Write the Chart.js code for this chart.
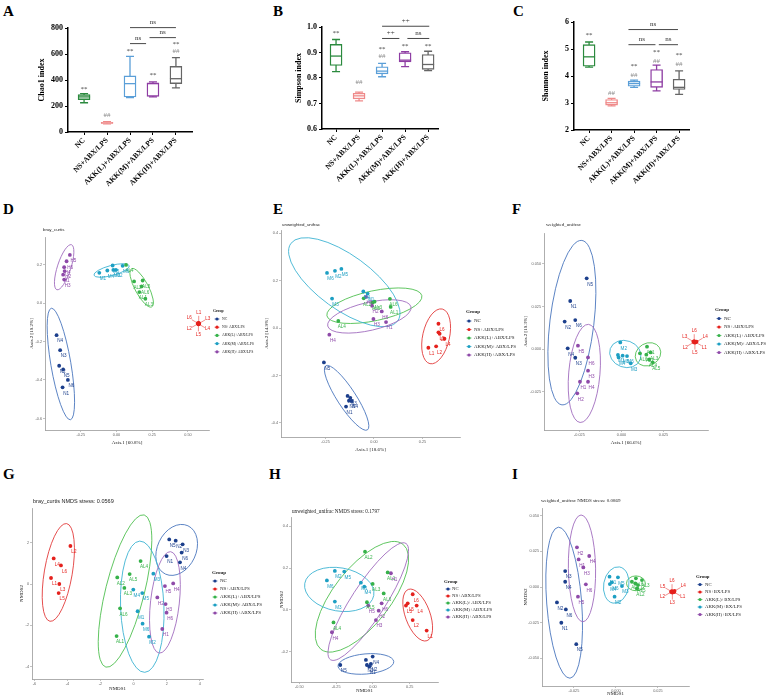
<!DOCTYPE html>
<html lang="en">
<head>
<meta charset="UTF-8">
<title>Alpha and beta diversity</title>
<script src="https://cdn.jsdelivr.net/npm/chart.js"></script>
<style>
  body { margin: 0; background: #fff; }
  #page { position: relative; width: 767px; height: 699px; overflow: hidden; background: #fff; }
  #page canvas { position: absolute; }
  .tag { position: absolute; font: bold 15px "Liberation Serif", "Times New Roman", serif; line-height: 15px; color: #000; }
</style>
</head>
<body>
<div id="page">
  <div class="tag" style="left:3px;top:4px">A</div>
  <div class="tag" style="left:273px;top:4px">B</div>
  <div class="tag" style="left:513px;top:4px">C</div>
  <div class="tag" style="left:3px;top:202px">D</div>
  <div class="tag" style="left:273px;top:202px">E</div>
  <div class="tag" style="left:512px;top:202px">F</div>
  <div class="tag" style="left:3px;top:467px">G</div>
  <div class="tag" style="left:269px;top:467px">H</div>
  <div class="tag" style="left:512px;top:467px">I</div>
  <canvas id="chao"></canvas>
  <canvas id="simpson"></canvas>
  <canvas id="shannon"></canvas>
  <canvas id="pcoaBray"></canvas>
  <canvas id="pcoaUnw"></canvas>
  <canvas id="pcoaW"></canvas>
  <canvas id="nmdsBray"></canvas>
  <canvas id="nmdsUnw"></canvas>
  <canvas id="nmdsW"></canvas>
</div>
<script>
const groupNames = ['NC', 'NS+ABX/LPS', 'AKK(L)+ABX/LPS', 'AKK(M)+ABX/LPS', 'AKK(H)+ABX/LPS'];
const groupNamesBX = ['NC', 'NS+BX/LPS', 'AKK(L)+BX/LPS', 'AKK(M)+BX/LPS', 'AKK(H)+BX/LPS'];
const boxColors = ['#2b8a3e', '#ef8a8a', '#5b9fd8', '#8e3da3', '#666666'];
const pointColors = ['#1c3f8c', '#e5211d', '#36b24a', '#1d9fc3', '#8f4aa9'];
const ringColors = ['#4a76bd', '#e23a3a', '#4fbf50', '#3db3d3', '#a06cbe'];

// A - Chao1
const chaoMin = [225, 62, 265, 270, 340];
const chaoQ1 = [249, 66, 269, 274, 372];
const chaoMedian = [270, 70, 372, 372, 410];
const chaoQ3 = [287, 75, 432, 378, 505];
const chaoMax = [295, 80, 582, 385, 572];
const chaoTicks = [0, 200, 400, 600, 800];
const chaoMarks = [[0, 330, '**'], [1, 128, '##'], [2, 623, '**'], [3, 436, '**'], [4, 672, '**'], [4, 623, '##']];
const chaoBrackets = [[2, 2.7, 680, 'ns'], [2.85, 4, 726, 'ns'], [2, 4, 803, 'ns']];

// B - Simpson
const simpsonMin = [0.825, 0.710, 0.805, 0.845, 0.829];
const simpsonQ1 = [0.849, 0.718, 0.816, 0.863, 0.834];
const simpsonMedian = [0.886, 0.730, 0.827, 0.870, 0.853];
const simpsonQ3 = [0.932, 0.740, 0.844, 0.899, 0.892];
const simpsonMax = [0.951, 0.745, 0.857, 0.903, 0.905];
const simpsonTicks = [0.6, 0.7, 0.8, 0.9, 1.0];
const simpsonMarks = [[0, 0.974, '**'], [1, 0.782, '##'], [2, 0.913, '**'], [2, 0.886, '##'], [3, 0.925, '**'], [4, 0.925, '**']];
const simpsonBrackets = [[2, 2.75, 0.955, '++'], [3.1, 4.05, 0.955, 'ns'], [2, 4.05, 1.003, '++']];

// C - Shannon
const shannonMin = [4.33, 2.89, 3.58, 3.45, 3.32];
const shannonQ1 = [4.36, 2.92, 3.62, 3.58, 3.50];
const shannonMedian = [4.71, 3.01, 3.72, 3.78, 3.58];
const shannonQ3 = [5.16, 3.13, 3.81, 4.24, 3.88];
const shannonMax = [5.26, 3.17, 3.85, 4.40, 4.19];
const shannonTicks = [2, 3, 4, 5, 6];
const shannonMarks = [[0, 5.53, '**'], [1, 3.35, '##'], [2, 4.38, '**'], [2, 4.03, '##'], [3, 4.89, '**'], [3, 4.56, '##'], [4, 4.77, '**'], [4, 4.44, '##']];
const shannonBrackets = [[1.75, 2.95, 5.16, 'ns'], [3.1, 3.95, 5.16, 'ns'], [1.75, 3.95, 5.72, 'ns']];

// D - PCoA bray_curtis  [sample, axis1, axis2]
const brayNC = [['N4', -0.419, -0.167], ['N3', -0.394, -0.245], ['N2', -0.401, -0.326], ['N5', -0.373, -0.345], ['N6', -0.340, -0.400], ['N1', -0.377, -0.438]];
const brayNS = [['L1', 0.575, -0.103], ['L3', 0.578, -0.106], ['L4', 0.576, -0.110], ['L5', 0.573, -0.111], ['L2', 0.570, -0.108], ['L6', 0.569, -0.105]];
const brayL = [['AL4', 0.067, 0.198], ['AL2', 0.123, 0.112], ['AL5', 0.183, 0.117], ['AL6', 0.176, 0.086], ['AL1', 0.160, 0.057], ['AL3', 0.202, 0.022]];
const brayM = [['M1', -0.120, 0.157], ['M4', -0.064, 0.169], ['M5', -0.027, 0.195], ['M3', -0.022, 0.172], ['M2', -0.004, 0.172], ['M6', 0.043, 0.193]];
const brayH = [['H5', -0.326, 0.250], ['H6', -0.349, 0.217], ['H4', -0.366, 0.186], ['H2', -0.363, 0.166], ['H1', -0.373, 0.147], ['H3', -0.366, 0.122]];
// ellipses: [centre x, centre y, semi-axis x, semi-axis y, tilt deg]
const brayEllipses = [[-0.389, -0.317, 0.07, 0.294, -9.7], null, [0.176, 0.079, 0.151, 0.035, 62], [-0.034, 0.169, 0.128, 0.026, -15], [-0.366, 0.186, 0.047, 0.123, 18]];

// E - PCoA unweighted_unifrac
const unwNC = [['N5', -0.258, -0.145], ['N2', -0.136, -0.286], ['N3', -0.122, -0.294], ['N6', -0.129, -0.306], ['N4', -0.115, -0.307], ['N1', -0.144, -0.331]];
const unwNS = [['L6', 0.332, 0.018], ['L5', 0.332, -0.018], ['L3', 0.338, -0.024], ['L4', 0.363, -0.045], ['L2', 0.320, -0.077], ['L1', 0.280, -0.083]];
const unwL = [['AL2', -0.053, 0.125], ['AL5', -0.007, 0.108], ['AL3', 0.003, 0.111], ['AL6', 0.082, 0.123], ['AL1', 0.086, 0.089], ['AL4', -0.184, 0.030]];
const unwM = [['M6', -0.242, 0.232], ['M2', -0.201, 0.241], ['M5', -0.168, 0.249], ['M3', -0.216, 0.124], ['M4', -0.055, 0.154], ['M1', -0.033, 0.145]];
const unwH = [['H5', -0.041, 0.131], ['H2', -0.010, 0.094], ['H6', 0.040, 0.070], ['H3', -0.003, 0.038], ['H1', 0.062, 0.025], ['H4', -0.230, -0.028]];
const unwEllipses = [[-0.141, -0.294, 0.048, 0.161, -33], [0.320, -0.035, 0.069, 0.118, 12.7], [0.002, 0.094, 0.25, 0.063, -12], [-0.153, 0.193, 0.34, 0.114, 36], [-0.024, 0.049, 0.22, 0.059, -13]];

// F - PCoA weighted_unifrac
const wNC = [['N5', -0.0207, 0.0415], ['N1', -0.0305, 0.0282], ['N2', -0.0338, 0.0161], ['N6', -0.0275, 0.0170], ['N4', -0.0320, 0.0004], ['N3', -0.0275, -0.0051]];
const wNS = [['L6', 0.0433, 0.0046], ['L4', 0.0447, 0.0043], ['L1', 0.0441, 0.0040], ['L5', 0.0437, 0.0038], ['L2', 0.0431, 0.0040], ['L3', 0.0428, 0.0044]];
const wL = [['AL1', 0.0152, 0.0014], ['AL6', 0.0110, -0.0025], ['AL2', 0.0148, -0.0033], ['AL3', 0.0174, -0.0020], ['AL4', 0.0166, -0.0061], ['AL5', 0.0186, -0.0078]];
const wM = [['M2', -0.0007, 0.0039], ['M1', -0.0021, -0.0035], ['M5', 0.0007, -0.0039], ['M4', -0.0017, -0.0049], ['M6', 0.0033, -0.0041], ['M3', 0.0055, -0.0084]];
const wH = [['H5', -0.0259, 0.0020], ['H6', -0.0199, -0.0049], ['H3', -0.0199, -0.0127], ['H1', -0.0247, -0.0192], ['H4', -0.0199, -0.0192], ['H2', -0.0263, -0.0260]];
const wEllipses = [[-0.0295, 0.0155, 0.0131, 0.0486, 6.9], null, [0.0158, -0.0031, 0.0079, 0.0065, -30], [0.0023, -0.0029, 0.0095, 0.0078, 20], [-0.0221, -0.0143, 0.0093, 0.0289, 4.9]];

// G - NMDS bray_curtis
const nbNC = [['N5', 2.15, 2.16], ['N2', 2.54, 2.10], ['N3', 2.96, 1.92], ['N6', 2.90, 1.52], ['N1', 1.99, 1.35], ['N4', 2.80, 1.05]];
const nbNS = [['L2', -3.82, 1.84], ['L4', -4.83, 1.24], ['L6', -4.39, 0.90], ['L1', -4.99, 0.29], ['L3', -4.49, 0.00], ['L5', -4.53, -0.44]];
const nbL = [['AL4', 0.42, 1.11], ['AL5', -0.24, 0.48], ['AL2', -0.99, 0.32], ['AL3', -0.56, -0.19], ['AL6', -0.82, -1.18], ['AL1', -1.03, -2.52]];
const nbM = [['M3', 1.19, 0.50], ['M4', -0.02, -0.27], ['M5', 0.52, -0.44], ['M1', 0.24, -1.32], ['M6', 0.54, -1.92], ['M2', 0.93, -2.55]];
const nbH = [['H4', 2.39, 0.03], ['H5', 1.89, -0.10], ['H2', 1.43, -0.65], ['H3', 1.93, -0.97], ['H6', 1.99, -1.39], ['H1', 1.73, -2.18]];
const nbEllipses = [[2.60, 1.65, 1.17, 1.29, 25], [-4.55, 0.56, 0.845, 2.40, 9.7], [-0.52, -0.34, 1.17, 3.80, 14.1], [0.52, -1.10, 1.31, 3.18, -2.2], [1.89, -0.89, 0.87, 2.47, 6.4]];

// H - NMDS unweighted_unifrac
const nuNC = [['N4', -0.002, -0.222], ['N6', -0.048, -0.238], ['N5', -0.222, -0.262], ['N3', -0.041, -0.262], ['N2', -0.014, -0.257], ['N1', -0.025, -0.270]];
const nuNS = [['L6', 0.270, 0.075], ['L5', 0.236, 0.032], ['L3', 0.224, 0.021], ['L4', 0.297, 0.021], ['L2', 0.270, -0.048], ['L1', 0.365, -0.098]];
const nuL = [['AL2', -0.054, 0.278], ['AL1', 0.100, 0.179], ['AL3', -0.002, 0.124], ['AL6', 0.073, 0.079], ['AL5', -0.041, 0.037], ['AL4', -0.268, -0.059]];
const nuM = [['M2', -0.259, 0.186], ['M5', -0.195, 0.183], ['M6', -0.313, 0.141], ['M1', -0.082, 0.130], ['M4', -0.059, 0.111], ['M3', -0.259, 0.040]];
const nuH = [['H1', 0.122, 0.175], ['H6', 0.059, 0.032], ['H5', -0.032, 0.021], ['H2', 0.039, -0.003], ['H3', 0.020, -0.048], ['H4', -0.279, -0.106]];
const nuEllipses = [[-0.048, -0.257, 0.19, 0.048, -5], [0.304, -0.024, 0.084, 0.130, -20], [-0.075, 0.063, 0.453, 0.135, -52], [-0.229, 0.098, 0.238, 0.103, 10], [-0.032, 0.040, 0.471, 0.08, -57]];

// I - NMDS weighted_unifrac
const nwNC = [['N3', -0.0302, 0.0112], ['N4', -0.0302, 0.0037], ['N2', -0.0351, -0.0108], ['N6', -0.0298, -0.0157], ['N1', -0.0325, -0.0251], ['N5', -0.0236, -0.0401]];
const nwNS = [['L6', 0.0334, -0.0029], ['L4', 0.0349, -0.0028], ['L1', 0.0346, -0.0036], ['L3', 0.0336, -0.0039], ['L2', 0.0329, -0.0035], ['L5', 0.0330, -0.0031]];
const nwL = [['AL6', 0.0119, 0.0061], ['AL1', 0.0095, 0.0037], ['AL3', 0.0155, 0.0049], ['AL4', 0.0115, 0.0026], ['AL5', 0.0131, 0.0014], ['AL2', 0.0125, -0.0009]];
const nwM = [['M1', -0.0038, 0.0073], ['M5', 0.0012, 0.0068], ['M6', -0.0024, 0.0033], ['M4', -0.0036, 0.0021], ['M3', 0.0036, 0.0007], ['M2', -0.0008, -0.0068]];
const nwH = [['H2', -0.0232, 0.0279], ['H1', -0.0222, 0.0194], ['H4', -0.0159, 0.0218], ['H3', -0.0194, 0.0138], ['H6', -0.0179, 0.0019], ['H5', -0.0226, -0.0068]];
const nwEllipses = [[-0.0308, -0.0110, 0.0104, 0.0532, -4.4], null, [0.0119, 0.0026, 0.0056, 0.0052, 0], [0.0002, 0.0014, 0.0075, 0.0129, 10], [-0.0202, 0.0131, 0.0081, 0.0375, -1]];

const SERIF = '"Liberation Serif", "Times New Roman", serif';
const SANS = '"Liberation Sans", Arial, sans-serif';

// put a canvas so that its chart area lands on L,T,R,B of the page
function place(id, p) {
  const c = document.getElementById(id);
  const left = p.L - p.yW, top = p.T - p.padTop;
  c.width = p.R - p.L + p.yW + p.padRight;
  c.height = p.B - p.T + p.padTop + p.xH;
  c.style.left = left + 'px';
  c.style.top = top + 'px';
  return { c, left, top };
}

function fixedTicks(values) {
  return scale => { scale.ticks = values.map(v => ({ value: v })); };
}

function boxChart(id, p, s) {
  const { c } = place(id, p);
  const decor = {
    id: 'boxDecor',
    beforeDatasetsDraw(chart) {
      const ctx = chart.ctx, xs = chart.scales.x, ys = chart.scales.y;
      ctx.save();
      ctx.lineWidth = 1.3;
      s.min.forEach((v, i) => {
        const x = xs.getPixelForValue(i);
        const lo = ys.getPixelForValue(v), hi = ys.getPixelForValue(s.max[i]);
        ctx.strokeStyle = boxColors[i];
        ctx.beginPath();
        ctx.moveTo(x, lo); ctx.lineTo(x, hi);
        ctx.moveTo(x - 4, lo); ctx.lineTo(x + 4, lo);
        ctx.moveTo(x - 4, hi); ctx.lineTo(x + 4, hi);
        ctx.stroke();
      });
      ctx.restore();
    },
    afterDatasetsDraw(chart) {
      const ctx = chart.ctx, xs = chart.scales.x, ys = chart.scales.y;
      ctx.save();
      ctx.lineWidth = 1.3;
      s.median.forEach((v, i) => {
        const x = xs.getPixelForValue(i), y = ys.getPixelForValue(v);
        ctx.strokeStyle = boxColors[i];
        ctx.beginPath(); ctx.moveTo(x - 6, y); ctx.lineTo(x + 6, y); ctx.stroke();
      });
      ctx.textAlign = 'center';
      ctx.textBaseline = 'middle';
      ctx.font = '7px ' + SERIF;
      s.marks.forEach(([i, v, t]) => {
        ctx.fillStyle = t === '**' ? '#444' : '#888';
        ctx.fillText(t, xs.getPixelForValue(i), ys.getPixelForValue(v));
      });
      ctx.strokeStyle = '#333';
      ctx.fillStyle = '#333';
      ctx.lineWidth = 0.9;
      s.brackets.forEach(([a, b, v, t]) => {
        const y = ys.getPixelForValue(v);
        const x1 = xs.getPixelForValue(a), x2 = xs.getPixelForValue(b);
        ctx.beginPath(); ctx.moveTo(x1, y); ctx.lineTo(x2, y); ctx.stroke();
        ctx.fillText(t, (x1 + x2) / 2, y - 5.5);
      });
      ctx.restore();
    }
  };
  const tickGrid = { display: true, drawOnChartArea: false, drawTicks: true, tickLength: 3, color: '#000', lineWidth: 1, offset: false };
  new Chart(c, {
    type: 'bar',
    data: {
      datasets: [{
        data: s.q1.map((v, i) => ({ x: i, y: [v, s.q3[i]] })),
        backgroundColor: '#fff',
        borderColor: boxColors,
        borderWidth: 1.4,
        borderSkipped: false,
        barThickness: 12
      }]
    },
    options: {
      responsive: false,
      animation: false,
      events: [],
      layout: { padding: { top: p.padTop, right: p.padRight, left: 0, bottom: 0 }, autoPadding: false },
      plugins: { legend: { display: false }, tooltip: { enabled: false } },
      scales: {
        x: {
          type: 'linear', min: s.xMin, max: s.xMax, offset: false,
          afterBuildTicks: fixedTicks([0, 1, 2, 3, 4]),
          afterFit: sc => { sc.height = p.xH; },
          grid: tickGrid,
          border: { display: true, color: '#000', width: 1.5 },
          ticks: { autoSkip: false, minRotation: 45, maxRotation: 45, padding: 1, color: '#000',
                   font: { family: SERIF, weight: 'bold', size: 7.5 },
                   callback: (v, i) => groupNames[i] }
        },
        y: {
          min: s.yMin, max: s.yMax, beginAtZero: false,
          afterBuildTicks: fixedTicks(s.ticks),
          afterFit: sc => { sc.width = p.yW; },
          grid: tickGrid,
          border: { display: true, color: '#000', width: 1.5 },
          ticks: { padding: 2, color: '#000', font: { family: SERIF, weight: 'bold', size: 8 },
                   callback: v => v.toFixed(s.dec) },
          title: { display: true, text: s.title, color: '#000', font: { family: SERIF, weight: 'bold', size: 8 },
                   padding: { top: 4, bottom: 0 } }
        }
      }
    },
    plugins: [decor]
  });
}

function scatterChart(id, p, s) {
  const { c, left, top } = place(id, p);
  const decor = {
    id: 'ordDecor',
    beforeDatasetsDraw(chart) {
      const ctx = chart.ctx, xs = chart.scales.x, ys = chart.scales.y;
      ctx.save();
      ctx.lineWidth = 0.9;
      s.ellipses.forEach((e, k) => {
        if (!e) return;
        const [cx, cy, rx, ry, deg] = e;
        const px = xs.getPixelForValue(cx), py = ys.getPixelForValue(cy);
        const rpx = Math.abs(xs.getPixelForValue(cx + rx) - px);
        const rpy = Math.abs(ys.getPixelForValue(cy + ry) - py);
        ctx.strokeStyle = ringColors[k];
        ctx.beginPath();
        ctx.ellipse(px, py, rpx, rpy, deg * Math.PI / 180, 0, 2 * Math.PI);
        ctx.stroke();
      });
      ctx.restore();
    },
    afterDatasetsDraw(chart) {
      const ctx = chart.ctx;
      ctx.save();
      ctx.font = '4.6px ' + SANS;
      ctx.textAlign = 'center';
      ctx.textBaseline = 'middle';
      chart.data.datasets.forEach((ds, k) => {
        const pts = chart.getDatasetMeta(k).data;
        const mx = pts.reduce((a, q) => a + q.x, 0) / pts.length;
        const my = pts.reduce((a, q) => a + q.y, 0) / pts.length;
        const tight = pts.every(q => Math.hypot(q.x - mx, q.y - my) < 5);
        ctx.fillStyle = pointColors[k];
        ctx.strokeStyle = pointColors[k];
        ctx.lineWidth = 0.5;
        pts.forEach((q, i) => {
          const name = ds.data[i].id;
          if (tight) {
            const a = (i * 60 - 90) * Math.PI / 180;
            ctx.beginPath();
            ctx.moveTo(q.x, q.y);
            ctx.lineTo(q.x + Math.cos(a) * 7, q.y + Math.sin(a) * 7);
            ctx.stroke();
            ctx.fillText(name, q.x + Math.cos(a) * 10, q.y + Math.sin(a) * 10);
          } else {
            ctx.fillText(name, q.x + 3.5, q.y + 6);
          }
        });
      });
      ctx.restore();
    },
    afterDraw(chart) {
      const ctx = chart.ctx, lg = s.legend;
      ctx.save();
      ctx.textAlign = 'left';
      ctx.textBaseline = 'middle';
      ctx.fillStyle = '#222';
      ctx.font = s.titleFont;
      ctx.fillText(s.title, s.titleAt[0] - left, s.titleAt[1] - top);
      ctx.font = 'bold ' + lg.fs + 'px ' + SERIF;
      ctx.fillText('Group', lg.x - left, lg.y - top);
      ctx.font = lg.fs + 'px ' + SERIF;
      s.names.forEach((n, k) => {
        const y = lg.y + lg.first + k * lg.dy - top;
        const kx = lg.kx - left;
        ctx.fillStyle = pointColors[k];
        ctx.strokeStyle = pointColors[k];
        ctx.lineWidth = 0.6;
        ctx.beginPath(); ctx.moveTo(kx - 2.5, y); ctx.lineTo(kx + 2.5, y); ctx.stroke();
        ctx.beginPath(); ctx.arc(kx, y, 1.6, 0, 2 * Math.PI); ctx.fill();
        ctx.fillStyle = '#222';
        ctx.fillText(n, lg.tx - left, y);
      });
      ctx.restore();
    }
  };
  const thin = { display: true, drawOnChartArea: false, drawTicks: true, tickLength: 2, color: '#999', lineWidth: 0.6 };
  const titleFont = { family: SERIF, size: 5 };
  new Chart(c, {
    type: 'scatter',
    data: {
      datasets: s.groups.map((g, k) => ({
        label: s.names[k],
        data: g.map(r => ({ x: r[1], y: r[2], id: r[0] })),
        backgroundColor: pointColors[k],
        borderColor: pointColors[k],
        pointRadius: 1.9,
        pointBorderWidth: 0
      }))
    },
    options: {
      responsive: false,
      animation: false,
      events: [],
      layout: { padding: { top: p.padTop, right: p.padRight, left: 0, bottom: 0 }, autoPadding: false },
      plugins: { legend: { display: false }, tooltip: { enabled: false } },
      scales: {
        x: {
          type: 'linear', min: s.x[0], max: s.x[1],
          afterBuildTicks: fixedTicks(s.xTicks),
          afterFit: sc => { sc.height = p.xH; },
          grid: thin,
          border: { display: true, color: '#999', width: 0.8 },
          ticks: { padding: 1, color: '#666', font: { family: SANS, size: 3.8 }, callback: v => v.toFixed(s.xDec) },
          title: { display: true, text: s.xTitle, color: '#222', font: titleFont, padding: { top: 0, bottom: 1 } }
        },
        y: {
          type: 'linear', min: s.y[0], max: s.y[1],
          afterBuildTicks: fixedTicks(s.yTicks),
          afterFit: sc => { sc.width = p.yW; },
          grid: thin,
          border: { display: true, color: '#999', width: 0.8 },
          ticks: { padding: 1, color: '#666', font: { family: SANS, size: 3.8 }, callback: v => v.toFixed(s.yDec) },
          title: { display: true, text: s.yTitle, color: '#222', font: titleFont, padding: { top: 1, bottom: 0 } }
        }
      }
    },
    plugins: [decor]
  });
}

boxChart('chao', { L: 68, T: 28, R: 192, B: 132, yW: 35, xH: 70, padTop: 25, padRight: 8 }, {
  min: chaoMin, q1: chaoQ1, median: chaoMedian, q3: chaoQ3, max: chaoMax,
  yMin: 0, yMax: 800, ticks: chaoTicks, dec: 0, xMin: -0.7, xMax: 4.7,
  title: 'Chao1 index', marks: chaoMarks, brackets: chaoBrackets
});
boxChart('simpson', { L: 322, T: 27, R: 438, B: 129, yW: 32, xH: 70, padTop: 25, padRight: 8 }, {
  min: simpsonMin, q1: simpsonQ1, median: simpsonMedian, q3: simpsonQ3, max: simpsonMax,
  yMin: 0.6, yMax: 1.0, ticks: simpsonTicks, dec: 1, xMin: -0.61, xMax: 4.43,
  title: 'Simpson index', marks: simpsonMarks, brackets: simpsonBrackets
});
boxChart('shannon', { L: 574, T: 22, R: 689, B: 130, yW: 37, xH: 70, padTop: 20, padRight: 8 }, {
  min: shannonMin, q1: shannonQ1, median: shannonMedian, q3: shannonQ3, max: shannonMax,
  yMin: 2, yMax: 6, ticks: shannonTicks, dec: 0, xMin: -0.67, xMax: 4.44,
  title: 'Shannon index', marks: shannonMarks, brackets: shannonBrackets
});

scatterChart('pcoaBray', { L: 45, T: 237, R: 209, B: 430, yW: 17, xH: 17, padTop: 12, padRight: 58 }, {
  groups: [brayNC, brayNS, brayL, brayM, brayH], ellipses: brayEllipses, names: groupNames,
  x: [-0.5, 0.647], xTicks: [-0.25, 0, 0.25, 0.5], xDec: 2,
  y: [-0.66, 0.343], yTicks: [-0.6, -0.4, -0.2, 0, 0.2], yDec: 1,
  xTitle: 'Axis.1 [60.8%]', yTitle: 'Axis.2 [19.2%]',
  title: 'bray_curtis', titleFont: '4.4px ' + SANS, titleAt: [43, 230],
  legend: { x: 213, y: 311, kx: 217, tx: 222, first: 8, dy: 8.2, fs: 3.8 }
});
scatterChart('pcoaUnw', { L: 281, T: 230, R: 460, B: 437, yW: 18, xH: 17, padTop: 10, padRight: 62 }, {
  groups: [unwNC, unwNS, unwL, unwM, unwH], ellipses: unwEllipses, names: groupNames,
  x: [-0.479, 0.443], xTicks: [-0.25, 0, 0.25], xDec: 2,
  y: [-0.459, 0.413], yTicks: [-0.4, -0.2, 0, 0.2, 0.4], yDec: 1,
  xTitle: 'Axis.1 [18.6%]', yTitle: 'Axis.2 [14.9%]',
  title: 'unweighted_unifrac', titleFont: '4.4px ' + SANS, titleAt: [282, 225],
  legend: { x: 466, y: 312, kx: 469, tx: 474, first: 9, dy: 8.5, fs: 5 }
});
scatterChart('pcoaW', { L: 544, T: 233, R: 708, B: 430, yW: 22, xH: 17, padTop: 12, padRight: 59 }, {
  groups: [wNC, wNS, wL, wM, wH], ellipses: wEllipses, names: groupNames,
  x: [-0.0461, 0.0515], xTicks: [-0.025, 0, 0.025], xDec: 3,
  y: [-0.0475, 0.0681], yTicks: [-0.025, 0, 0.025, 0.05], yDec: 3,
  xTitle: 'Axis.1 [66.6%]', yTitle: 'Axis.2 [19.3%]',
  title: 'weighted_unifrac', titleFont: '5px ' + SERIF, titleAt: [546, 225],
  legend: { x: 715, y: 310, kx: 719, tx: 724, first: 8.5, dy: 8.5, fs: 5 }
});
scatterChart('nmdsBray', { L: 32, T: 508, R: 203, B: 679, yW: 14, xH: 14, padTop: 12, padRight: 64 }, {
  groups: [nbNC, nbNS, nbL, nbM, nbH], ellipses: nbEllipses, names: groupNames,
  x: [-6.14, 4.19], xTicks: [-6, -4, -2, 0, 2, 4], xDec: 0,
  y: [-4.6, 3.68], yTicks: [-4, -2, 0, 2], yDec: 0,
  xTitle: 'NMDS1', yTitle: 'NMDS2',
  title: 'bray_curtis NMDS stress: 0.0569', titleFont: '5.5px ' + SANS, titleAt: [33, 501],
  legend: { x: 212, y: 573, kx: 215, tx: 220, first: 8, dy: 8, fs: 5 }
});
scatterChart('nmdsUnw', { L: 291, T: 517, R: 438, B: 682, yW: 13, xH: 13, padTop: 10, padRight: 64 }, {
  groups: [nuNC, nuNS, nuL, nuM, nuH], ellipses: nuEllipses, names: groupNames,
  x: [-0.557, 0.442], xTicks: [-0.5, -0.25, 0, 0.25], xDec: 2,
  y: [-0.343, 0.443], yTicks: [-0.2, 0, 0.2, 0.4], yDec: 1,
  xTitle: 'NMDS1', yTitle: 'NMDS2',
  title: 'unweighted_unifrac NMDS stress: 0.1797', titleFont: '5.2px ' + SERIF, titleAt: [292, 512],
  legend: { x: 444, y: 582, kx: 448, tx: 452, first: 7, dy: 7, fs: 4.8 }
});
scatterChart('nmdsW', { L: 542, T: 508, R: 689, B: 686, yW: 20, xH: 12, padTop: 12, padRight: 72 }, {
  groups: [nwNC, nwNS, nwL, nwM, nwH], ellipses: nwEllipses, names: groupNamesBX,
  x: [-0.044, 0.0435], xTicks: [-0.025, 0, 0.025], xDec: 3,
  y: [-0.0695, 0.0555], yTicks: [-0.05, -0.025, 0, 0.025, 0.05], yDec: 3,
  xTitle: 'NMDS1', yTitle: 'NMDS2',
  title: 'weighted_unifrac NMDS stress: 0.0869', titleFont: '5px ' + SERIF, titleAt: [541, 501],
  legend: { x: 696, y: 577, kx: 700, tx: 705, first: 7.5, dy: 7.5, fs: 4.8 }
});
</script>
</body>
</html>
